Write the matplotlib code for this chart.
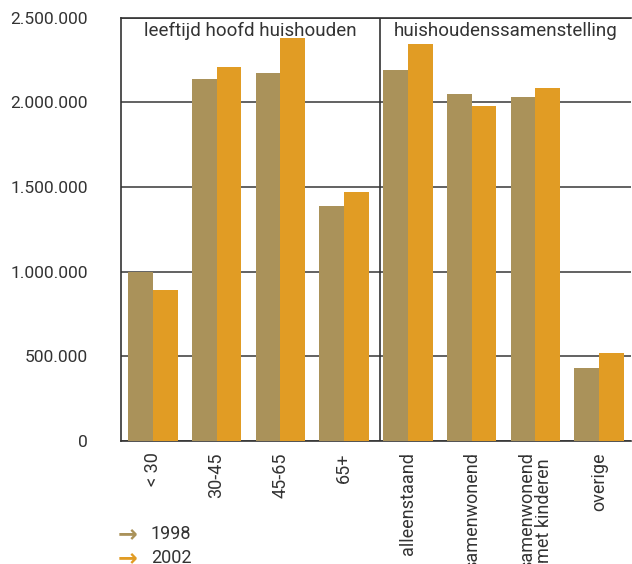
import matplotlib
matplotlib.use("Agg")
import matplotlib.pyplot as plt
import numpy as np

categories = ["< 30", "30-45", "45-65", "65+", "alleenstaand", "samenwonend",
              "samenwonend\nmet kinderen", "overige"]
values_1998 = [995000, 2139000, 2174000, 1386000, 2190000, 2050000, 2032000, 432000]
values_2002 = [889000, 2210000, 2380000, 1469000, 2346000, 1979000, 2085000, 521000]
series_names = ["1998", "2002"]
section_titles = ["leeftijd hoofd huishouden", "huishoudenssamenstelling"]
yticks = [0, 500000, 1000000, 1500000, 2000000, 2500000]
ytick_labels = ["0", "500.000", "1.000.000", "1.500.000", "2.000.000", "2.500.000"]

c1998 = "#AA925A"
c2002 = "#E19C24"
txt = "#333333"

plt.rcParams['font.family'] = ['Roboto', 'DejaVu Sans']

fig = plt.figure(figsize=(6.32, 5.64), dpi=100)
ax = fig.add_axes([121/632, 1 - 441/564, 510/632, 423.5/564])

x = np.arange(len(categories))
w = 0.39
ax.bar(x - w/2, values_1998, width=w, color=c1998, zorder=3)
ax.bar(x + w/2, values_2002, width=w, color=c2002, zorder=3)

ax.set_xlim(-0.5, len(categories) - 0.5)
ax.set_ylim(0, 2500000)
ax.set_yticks(yticks)
ax.set_yticklabels(ytick_labels, fontsize=12.5, color=txt)
ax.yaxis.grid(True, color="#555555", linewidth=1.3, zorder=1)
ax.set_axisbelow(True)
ax.tick_params(axis='y', length=0, pad=24)
ax.set_xticks(x)
ax.set_xticklabels(categories, rotation=90, fontsize=13, color=txt, va='top',
                   linespacing=0.95)
ax.tick_params(axis='x', length=0, pad=8)

ax.spines["right"].set_visible(False)
for s in ["left", "bottom", "top"]:
    ax.spines[s].set_color("#333333")
    ax.spines[s].set_linewidth(1.2)

# divider between sections
div = 3.56
ax.axvline(div, color="#333333", linewidth=1.2, zorder=4)

ax.text((-0.5 + div) / 2, 2420000, section_titles[0], ha='center', va='center',
        fontsize=13.5, color=txt)
ax.text((div + len(categories) - 0.5) / 2, 2420000, section_titles[1], ha='center',
        va='center', fontsize=13.5, color=txt)

# legend
for i, (name, col) in enumerate(zip(series_names, [c1998, c2002])):
    y = 1 - (534 + 24 * i) / 564
    fig.text(118/632, y, "\u2192", color=col, fontsize=17, fontweight='bold',
             va='center', ha='left', family='DejaVu Sans')
    fig.text(151/632, y, name, color=txt, fontsize=13, va='center', ha='left')

fig.savefig("out.png", dpi=100)
